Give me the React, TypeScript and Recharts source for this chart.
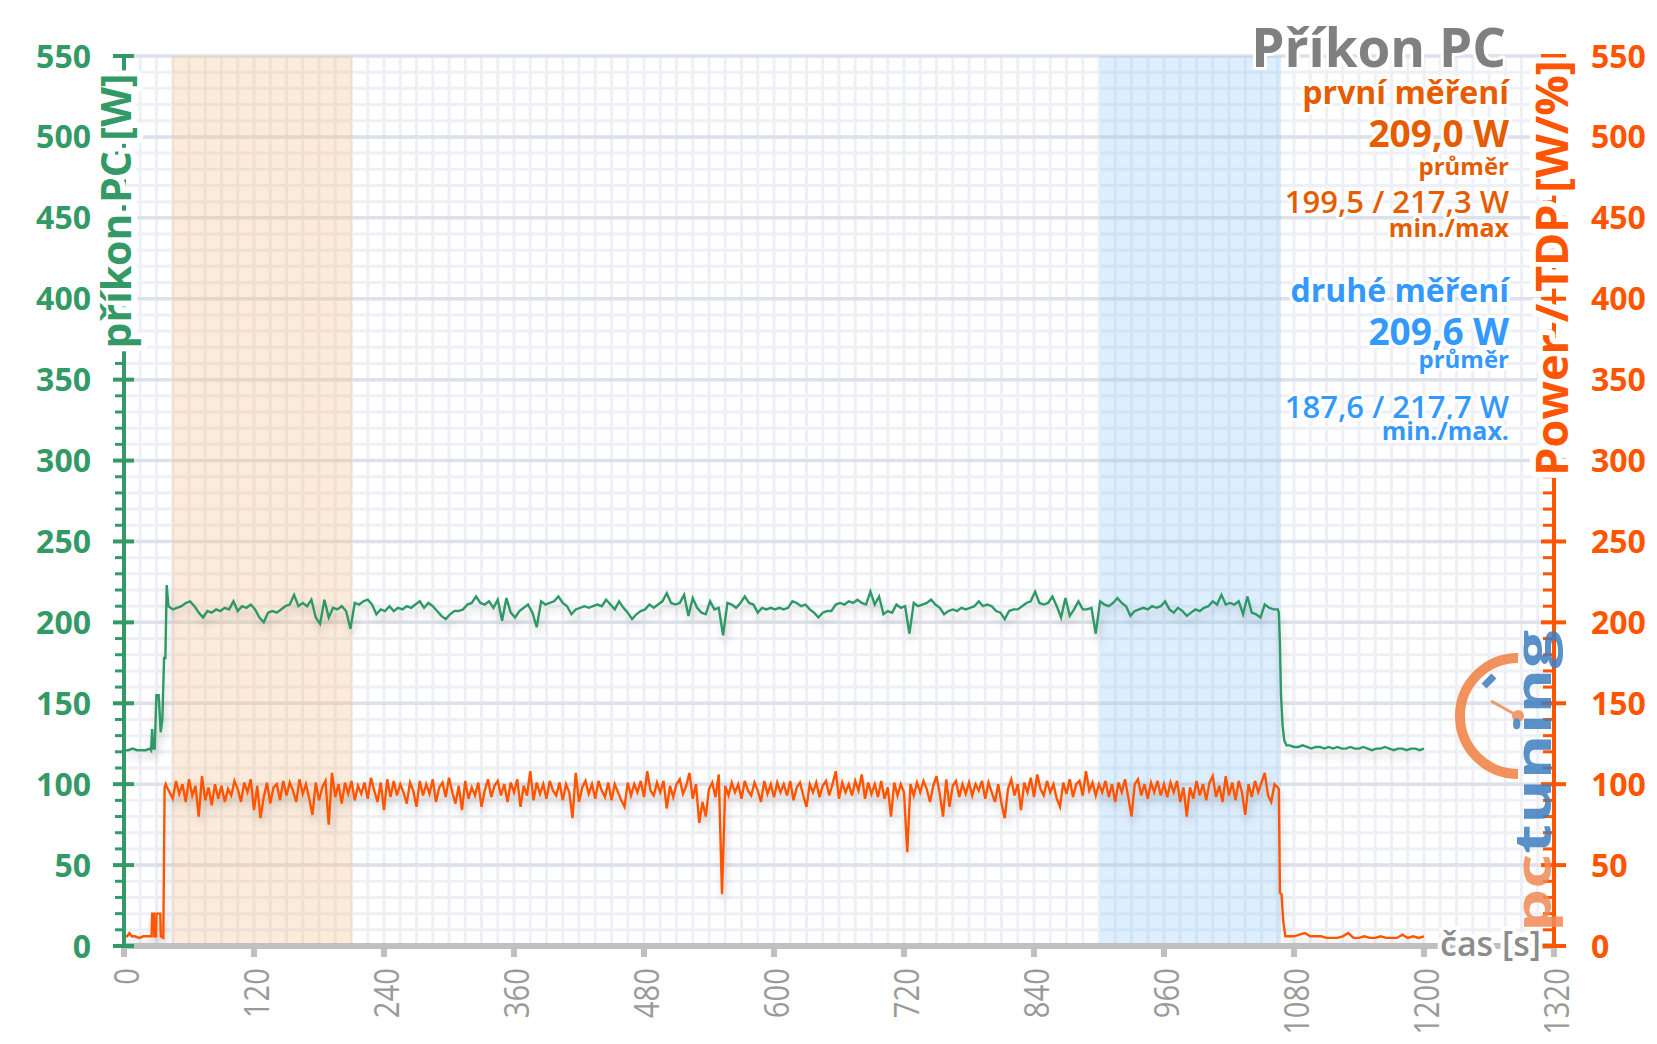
import React from 'react';
import { LineChart, Line, XAxis, YAxis, CartesianGrid, ReferenceArea } from 'recharts';

const FONT = "'Open Sans', 'Noto Sans', sans-serif";
const GREEN = '#339966';
const ORANGE = '#ff5500';
const TEXT_ORANGE = '#e65c00';
const TEXT_BLUE = '#3399ff';

// ---- axis tick labels ----
const X_LABEL_TICKS = [0, 120, 240, 360, 480, 600, 720, 840, 960, 1080, 1200, 1320];
const Y_LABEL_TICKS = [0, 50, 100, 150, 200, 250, 300, 350, 400, 450, 500, 550];
const X_MINOR_STEP = 15;
const Y_MINOR_STEP = 10;
const xMinorTicks = Array.from({ length: 1320 / X_MINOR_STEP + 1 }, (_, i) => i * X_MINOR_STEP);
const yMinorTicks = Array.from({ length: 550 / Y_MINOR_STEP + 1 }, (_, i) => i * Y_MINOR_STEP);

// ---- highlighted measurement windows [s] ----
const BAND_FIRST = [44.5, 210.5];
const BAND_SECOND = [901, 1068];

// ---- příkon PC [W] (green) ----
const greenIntroT = [1, 4, 8, 12, 16, 20, 24, 25, 26, 27, 28.4, 29.9, 32, 33.9, 35.4, 37, 38.2, 39.4];
const greenIntroV = [121, 121, 122, 121, 121, 121, 122, 121, 134, 122, 122, 155, 155, 132, 140, 178, 178, 223];
const GREEN_MAIN_START = 41;
const GREEN_MAIN_STEP = 4;
const greenMainV = [
  210, 208, 209, 210, 212, 213, 210, 206, 203, 207,
  206, 208, 207, 209, 208, 213, 207, 210, 209, 211,
  208, 203, 200, 206, 207, 206, 208, 210, 211, 217,
  210, 212, 210, 214, 203, 199, 214, 203, 209, 208,
  210, 207, 196, 212, 211, 213, 214, 211, 205, 208,
  207, 210, 207, 209, 208, 210, 209, 211, 213, 209,
  212, 210, 207, 204, 202, 205, 207, 207, 208, 211,
  212, 216, 212, 211, 213, 209, 214, 201, 215, 206,
  203, 207, 209, 211, 206, 197, 213, 211, 212, 213,
  216, 212, 210, 205, 208, 209, 210, 209, 210, 211,
  210, 214, 211, 208, 213, 209, 206, 202, 205, 207,
  208, 211, 209, 211, 213, 218, 212, 211, 212, 217,
  204, 215, 209, 206, 205, 213, 208, 209, 192, 212,
  211, 209, 212, 216, 212, 211, 206, 209, 208, 209,
  208, 209, 208, 209, 213, 212, 210, 211, 208, 206,
  203, 206, 207, 207, 211, 212, 211, 213, 212, 214,
  212, 211, 219, 211, 216, 205, 207, 206, 211, 209,
  210, 193, 212, 210, 211, 212, 214, 211, 209, 205,
  207, 208, 207, 209, 208, 209, 210, 213, 210, 211,
  210, 207, 206, 202, 207, 208, 208, 210, 212, 213,
  219, 212, 211, 212, 216, 210, 203, 215, 204, 208,
  213, 208, 208, 209, 193, 213, 211, 210, 212, 215,
  212, 210, 204, 207, 208, 209, 208, 210, 209, 210,
  213, 208, 206, 209, 207, 204, 206, 208, 207, 209,
  210, 213, 211, 217, 211, 212, 211, 213, 205, 216,
  206, 205, 203, 211, 209, 208, 208,
];
const greenOutroT = [1066, 1067, 1068, 1069.5, 1071, 1073];
const greenOutroV = [206, 187, 155, 136, 127, 124];
const GREEN_TAIL_START = 1076;
const GREEN_TAIL_STEP = 4;
const greenTailV = [
  124, 123, 123, 124, 123, 122, 123, 123, 122, 123, 122, 123, 122, 122, 123, 122,
  122, 123, 122, 121, 122, 122, 123, 122, 121, 122, 122, 121, 122, 122, 121, 122,
];

// ---- Power / TDP [W/%] (orange) ----
const orangeIntroT = [1, 3, 5, 7, 10, 14, 18, 22, 25.5, 26, 27.5, 28, 29.5, 30, 33.5, 34, 36.3, 37.5, 38.5];
const orangeIntroV = [6, 6, 8, 6, 6, 5, 6, 6, 6, 20, 20, 6, 6, 20, 20, 6, 5, 98, 100];
const ORANGE_MAIN_START = 39;
const ORANGE_MAIN_STEP = 3;
const orangeMainV = [
  99, 95, 91, 102, 94, 100, 89, 103, 93, 99,
  80, 105, 90, 98, 87, 100, 91, 99, 89, 97,
  93, 102, 97, 89, 101, 95, 103, 84, 99, 79,
  92, 101, 88, 98, 100, 90, 102, 93, 101, 96,
  89, 103, 94, 100, 91, 81, 101, 90, 98, 102,
  75, 107, 92, 100, 88, 101, 94, 102, 90, 99,
  94, 101, 91, 104, 96, 89, 101, 84, 103, 92,
  102, 93, 100, 95, 88, 101, 96, 86, 102, 93,
  100, 94, 103, 89, 98, 101, 92, 104, 95, 88,
  99, 84, 102, 91, 98, 93, 101, 86, 96, 103,
  92, 99, 102, 93, 100, 89, 101, 95, 103, 86,
  99, 93, 108, 90, 101, 94, 100, 91, 102, 96,
  93, 101, 90, 100, 95, 79, 107, 89, 98, 102,
  94, 100, 91, 102, 96, 92, 101, 90, 100, 95,
  90, 86, 101, 93, 100, 95, 102, 92, 108, 96,
  93, 101, 95, 102, 85, 99, 92, 100, 103, 94,
  99, 107, 91, 100, 76, 89, 80, 97, 101, 92,
  106, 32, 99, 93, 101, 95, 100, 91, 102, 96,
  93, 101, 96, 89, 102, 94, 100, 92, 101, 95,
  100, 93, 102, 90, 98, 101, 93, 86, 100, 95,
  101, 92, 99, 102, 93, 100, 108, 91, 101, 95,
  100, 93, 102, 96, 106, 91, 101, 94, 100, 92,
  102, 91, 98, 80, 101, 93, 100, 95, 58, 100,
  93, 101, 95, 102, 97, 89, 99, 105, 94, 80,
  103, 86, 99, 102, 92, 100, 94, 101, 93, 100,
  96, 102, 91, 101, 95, 89, 100, 88, 79, 97,
  103, 93, 100, 84, 101, 95, 104, 92, 106, 97,
  93, 102, 95, 100, 91, 86, 101, 94, 103, 92,
  100, 102, 93, 108, 96, 101, 93, 100, 95, 102,
  92, 100, 89, 101, 95, 103, 92, 80, 100, 103,
  93, 100, 91, 101, 95, 102, 93, 100, 92, 101,
  95, 102, 89, 98,
  80, 98, 91, 102, 93, 100, 90, 101, 105, 92,
  99, 89, 105, 93, 101, 90, 102, 95, 81, 100,
  92, 102, 95, 101, 107, 93, 89, 100, 98,
];
const orangeOutroT = [1066, 1067, 1068.5, 1070, 1072];
const orangeOutroV = [97, 33, 32, 16, 6];
const ORANGE_TAIL_START = 1075;
const ORANGE_TAIL_STEP = 5;
const orangeTailV = [6, 6, 7, 8, 6, 6, 6, 5, 5, 5, 6, 8, 5, 5, 6, 5, 5, 6, 5, 5, 5, 7, 5, 6, 5, 6];

type Pt = { t: number; v: number };
function buildSeries(
  introT: number[], introV: number[],
  mainStart: number, mainStep: number, mainV: number[],
  outroT: number[], outroV: number[],
  tailStart: number, tailStep: number, tailV: number[],
): Pt[] {
  const pts: Pt[] = [];
  introT.forEach((t, i) => pts.push({ t, v: introV[i] }));
  mainV.forEach((v, i) => pts.push({ t: mainStart + i * mainStep, v }));
  outroT.forEach((t, i) => pts.push({ t, v: outroV[i] }));
  tailV.forEach((v, i) => pts.push({ t: tailStart + i * tailStep, v }));
  return pts;
}

const greenData = buildSeries(greenIntroT, greenIntroV, GREEN_MAIN_START, GREEN_MAIN_STEP, greenMainV,
  greenOutroT, greenOutroV, GREEN_TAIL_START, GREEN_TAIL_STEP, greenTailV);
const orangeData = buildSeries(orangeIntroT, orangeIntroV, ORANGE_MAIN_START, ORANGE_MAIN_STEP, orangeMainV,
  orangeOutroT, orangeOutroV, ORANGE_TAIL_START, ORANGE_TAIL_STEP, orangeTailV);

const LeftTick = (props: any) => {
  const { x, y, payload } = props;
  const v = payload.value;
  const major = v % 50 === 0;
  return (
    <g>
      <line x1={major ? x - 11 : x - 9} x2={major ? x + 10 : x} y1={y} y2={y} stroke={GREEN} strokeWidth={major ? 4 : 3} />
      {major && (
        <text x={x - 33} y={y} dy={11.5} textAnchor="end" fill={GREEN} fontSize={32} fontWeight={700} fontFamily={FONT}>
          {v}
        </text>
      )}
    </g>
  );
};

const RightTick = (props: any) => {
  const { x, y, payload } = props;
  const v = payload.value;
  const major = v % 50 === 0;
  return (
    <g>
      <line x1={major ? x - 13 : x - 11} x2={major ? x + 12 : x} y1={y} y2={y} stroke={ORANGE} strokeWidth={major ? 4 : 3} />
      {major && (
        <text x={x + 37} y={y} dy={11.5} textAnchor="start" fill={ORANGE} fontSize={32} fontWeight={700} fontFamily={FONT}>
          {v}
        </text>
      )}
    </g>
  );
};

const BottomTick = (props: any) => {
  const { x, y, payload } = props;
  const v = payload.value;
  if (v % 120 !== 0) return <g />;
  return (
    <g>
      <line x1={x} x2={x} y1={y + 1} y2={y + 11} stroke="#c0c0c0" strokeWidth={6} />
      <text
        transform={`translate(${x + 15},${y + 22}) rotate(-90) scale(0.86,1)`}
        textAnchor="end"
        fill="#9a9a9a"
        fontSize={34}
        fontFamily={FONT}
      >
        {v}
      </text>
    </g>
  );
};

const halo = { stroke: '#ffffff', strokeWidth: 6, paintOrder: 'stroke' as const, strokeLinejoin: 'round' as const };

export default function App() {
  return (
    <div style={{ position: 'relative', width: 1657, height: 1044, fontFamily: FONT, background: '#fff' }}>
      <style>{`body{margin:0;} .recharts-line-curve{filter:url(#lineShadow);}`}</style>
      <LineChart width={1657} height={1044} margin={{ top: 56, right: 43, bottom: 18, left: 64 }}>
        <CartesianGrid stroke="#eef0f5" strokeWidth={3} xAxisId={0} yAxisId="left" />
        <CartesianGrid stroke="#dde1e9" strokeWidth={3.5} xAxisId="major" yAxisId="major" />
        <XAxis
          dataKey="t"
          type="number"
          domain={[0, 1320]}
          ticks={xMinorTicks}
          interval={0}
          allowDataOverflow
          height={80}
          tickSize={0}
          tickMargin={0}
          tickLine={false}
          axisLine={{ stroke: '#c0c0c0', strokeWidth: 6 }}
          tick={BottomTick}
        />
        <XAxis xAxisId="major" type="number" domain={[0, 1320]} ticks={X_LABEL_TICKS} interval={0} hide allowDataOverflow />
        <YAxis
          yAxisId="left"
          orientation="left"
          type="number"
          domain={[0, 550]}
          ticks={yMinorTicks}
          interval={0}
          allowDataOverflow
          width={60}
          tickSize={0}
          tickMargin={0}
          tickLine={false}
          axisLine={{ stroke: GREEN, strokeWidth: 4 }}
          tick={LeftTick}
        />
        <YAxis
          yAxisId="right"
          orientation="right"
          type="number"
          domain={[0, 550]}
          ticks={yMinorTicks}
          interval={0}
          allowDataOverflow
          width={60}
          tickSize={0}
          tickMargin={0}
          tickLine={false}
          axisLine={{ stroke: ORANGE, strokeWidth: 4 }}
          tick={RightTick}
        />
        <YAxis yAxisId="major" type="number" domain={[0, 550]} ticks={Y_LABEL_TICKS} interval={0} hide allowDataOverflow />
        <ReferenceArea x1={BAND_FIRST[0]} x2={BAND_FIRST[1]} yAxisId="left" fill="#f5bc87" fillOpacity={0.3} stroke="none" />
        <ReferenceArea x1={BAND_SECOND[0]} x2={BAND_SECOND[1]} yAxisId="left" fill="#8ec6f8" fillOpacity={0.3} stroke="none" />
        <Line
          data={orangeData}
          dataKey="v"
          yAxisId="right"
          type="linear"
          stroke={ORANGE}
          strokeWidth={2.4}
          dot={false}
          activeDot={false}
          isAnimationActive={false}
        />
        <Line
          data={greenData}
          dataKey="v"
          yAxisId="left"
          type="linear"
          stroke="#2e9966"
          strokeWidth={2.4}
          dot={false}
          activeDot={false}
          isAnimationActive={false}
        />
      </LineChart>
      <svg width={1657} height={1044} style={{ position: 'absolute', left: 0, top: 0, pointerEvents: 'none' }} fontFamily={FONT}>
        <defs>
          <filter id="lineShadow" x="-5%" y="-30%" width="110%" height="180%">
            <feDropShadow dx="2" dy="6" stdDeviation="4" floodColor="#000" floodOpacity="0.2" />
          </filter>
        </defs>
        {/* axis titles */}
        <text transform="translate(131,211) rotate(-90)" textAnchor="middle" fontSize={41} fontWeight={700} fill={GREEN} {...halo} strokeWidth={12}>
          příkon PC [W]
        </text>
        <text transform="translate(1568,268) rotate(-90)" textAnchor="middle" fontSize={45} fontWeight={700} fill={ORANGE} {...halo} strokeWidth={12}>
          Power / TDP [W/%]
        </text>
        <text x={1440} y={956} fontSize={34} fontWeight={600} fill="#8c8c8c" {...halo} strokeWidth={8}>
          čas [s]
        </text>
        {/* title & stats */}
        <text x={1506} y={67} textAnchor="end" fontSize={53} fontWeight={700} fill="#808080" {...halo}>Příkon PC</text>
        <text x={1509} y={104} textAnchor="end" fontSize={32} fontWeight={700} fill={TEXT_ORANGE} {...halo}>první měření</text>
        <text x={1509} y={147} textAnchor="end" fontSize={37} fontWeight={700} fill={TEXT_ORANGE} {...halo}>209,0 W</text>
        <text x={1509} y={175} textAnchor="end" fontSize={24} fontWeight={700} fill={TEXT_ORANGE} {...halo}>průměr</text>
        <text x={1509} y={213} textAnchor="end" fontSize={31} fontWeight={600} fill={TEXT_ORANGE} {...halo}>199,5 / 217,3 W</text>
        <text x={1509} y={237} textAnchor="end" fontSize={25} fontWeight={700} fill={TEXT_ORANGE} {...halo}>min./max</text>
        <text x={1509} y={302} textAnchor="end" fontSize={32} fontWeight={700} fill={TEXT_BLUE} {...halo}>druhé měření</text>
        <text x={1509} y={345} textAnchor="end" fontSize={37} fontWeight={700} fill={TEXT_BLUE} {...halo}>209,6 W</text>
        <text x={1509} y={368} textAnchor="end" fontSize={24} fontWeight={700} fill={TEXT_BLUE} {...halo}>průměr</text>
        <text x={1509} y={418} textAnchor="end" fontSize={31} fontWeight={600} fill={TEXT_BLUE} {...halo}>187,6 / 217,7 W</text>
        <text x={1509} y={440} textAnchor="end" fontSize={25} fontWeight={700} fill={TEXT_BLUE} {...halo}>min./max.</text>
        {/* watermark logo */}
        <g opacity={0.85}>
          <path d="M 1518 658 A 58 58 0 0 0 1518 774" fill="none" stroke="#f08040" strokeWidth={10} />
          <line x1={1484} y1={686} x2={1494} y2={676} stroke="#3d7ebf" strokeWidth={7} />
          <line x1={1518} y1={716} x2={1491} y2={701} stroke="#f08a55" strokeWidth={3} />
          <circle cx={1518} cy={716} r={6} fill="#f08a55" />
          <text transform="translate(1551,932) rotate(-90)" fontSize={50} fontWeight={700} textLength={302} lengthAdjust="spacingAndGlyphs">
            <tspan fill="#f08a55">pc</tspan>
            <tspan fill="#3d7ebf">tuning</tspan>
          </text>
        </g>
      </svg>
    </div>
  );
}
